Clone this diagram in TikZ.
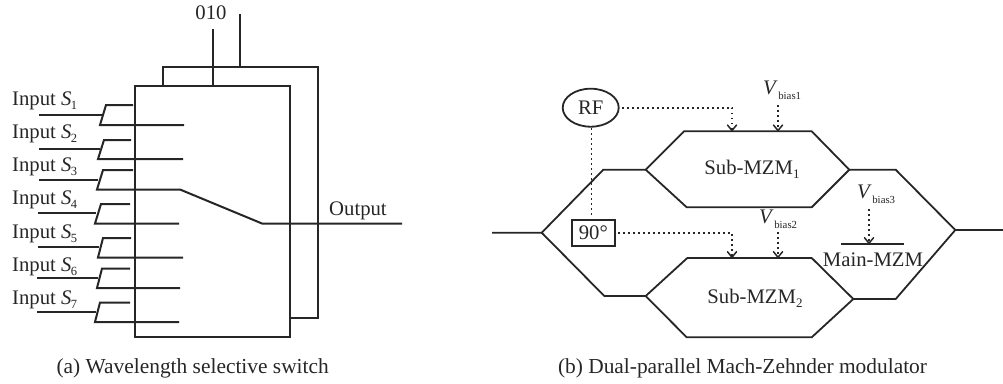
\documentclass[tikz,border=0pt]{standalone}
\usepackage{fontspec}
\setmainfont{Liberation Serif}
\usetikzlibrary{arrows.meta,shapes.geometric}
\definecolor{ink}{HTML}{262626}
\newcommand{\sbs}[2]{\textit{#1}\kern-0.5pt\raisebox{-0.45ex}{\fontsize{12.5}{12}\selectfont #2}}
\newcommand{\vbias}[1]{\textit{V}\kern0.5pt\raisebox{-0.55ex}{\fontsize{10.8}{12}\selectfont bias#1}}
\tikzset{
  wire/.style={draw=ink,line width=2pt,line join=miter},
  guide/.style={draw=ink,line width=1.8pt,line join=miter},
  sig/.style={draw=ink,line width=1.6pt,dash pattern=on 1.6pt off 3.4pt,-{Straight Barb[length=5.5pt,width=9pt,line width=1.5pt,round]}},
  sigplain/.style={draw=ink,line width=1.6pt,dash pattern=on 1.6pt off 3.4pt},
  lbl/.style={inner sep=0pt,text=ink,font=\fontsize{20.7}{22}\selectfont},
  captxt/.style={inner sep=0pt,text=ink,font=\fontsize{21.4}{22}\selectfont},
}
\begin{document}
\begin{tikzpicture}[x=1pt,y=-1pt]
\useasboundingbox (0,0) rectangle (1003,383);
% ---- (a) wavelength selective switch
\coordinate (bTL) at (135,85.5); \coordinate (bTR) at (290,85.5);
\coordinate (bBR) at (290,336.7); \coordinate (bBL) at (135,336.7);
\path[wire] (bTL) -- (bTR) -- (bBR) -- (bBL) -- cycle;
\coordinate (oA) at (163,85.5); \coordinate (oB) at (163,66.5);
\coordinate (oC) at (318,66.5); \coordinate (oD) at (318,318); \coordinate (oE) at (290,318);
\path[wire] (oA) -- (oB) -- (oC) -- (oD) -- (oE);
\coordinate (c1a) at (212.5,29); \coordinate (c1b) at (212.5,85.5);
\coordinate (c2a) at (240,14); \coordinate (c2b) at (240,66.5);
\path[wire] (c1a) -- (c1b);
\path[wire] (c2a) -- (c2b);
\node[lbl] (code) at (211,13) {010};
% inputs
\foreach \n/\lx/\lxe/\ly/\tx/\te/\ty/\bx/\be/\by in {
 1/39/102/115/106/133/105/100/184/125,
 2/39/100/149/104/131/140/98/183/159,
 4/38/96/212.7/101/130/204/95/179/223.5,
 5/38/99/247/103/131/238/98/183/257.5,
 6/37/98/277.7/102/130/268.5/97/180/288,
 7/37/96/312/100/130/302.5/95/179/322}{
  \coordinate (i\n) at (\lx,\ly); \coordinate (j\n) at (\lxe,\ly);
  \coordinate (t\n) at (\te,\ty); \coordinate (u\n) at (\tx,\ty);
  \coordinate (v\n) at (\bx,\by); \coordinate (w\n) at (\be,\by);
  \path[wire] (i\n) -- (j\n);
  \path[wire] (t\n) -- (u\n) -- (v\n) -- (w\n);
}
\coordinate (i3) at (39,180); \coordinate (j3) at (98,180);
\coordinate (t3) at (133,170); \coordinate (u3) at (103,170); \coordinate (v3) at (97,189.5);
\coordinate (w3) at (180,189.5); \coordinate (x3) at (262,223.5); \coordinate (out) at (402,223.5);
\path[wire] (i3) -- (j3);
\path[wire] (t3) -- (u3) -- (v3) -- (w3) -- (x3) -- (out);
\node[lbl,anchor=base west] (s1) at (12,105) {Input \sbs{S}{1}};
\node[lbl,anchor=base west] (s2) at (12,138) {Input \sbs{S}{2}};
\node[lbl,anchor=base west] (s3) at (12,171) {Input \sbs{S}{3}};
\node[lbl,anchor=base west] (s4) at (12,204) {Input \sbs{S}{4}};
\node[lbl,anchor=base west] (s5) at (12,238) {Input \sbs{S}{5}};
\node[lbl,anchor=base west] (s6) at (12,271) {Input \sbs{S}{6}};
\node[lbl,anchor=base west] (s7) at (12,304) {Input \sbs{S}{7}};
\node[lbl,anchor=base west] (outl) at (329,215) {Output};
\node[captxt,anchor=base] (capa) at (192.7,373) {(a) Wavelength selective switch};
% ---- (b) dual-parallel MZM
\coordinate (inL) at (492,232.7); \coordinate (sp) at (541.7,232.7);
\coordinate (ua) at (603.3,169.7); \coordinate (ub) at (645.7,169.7);
\coordinate (la) at (604.3,296); \coordinate (lb) at (645.7,296);
\coordinate (uc) at (849.3,169.7); \coordinate (ud) at (895.7,169.7);
\coordinate (lc) at (853.3,299); \coordinate (ld) at (895.7,299);
\coordinate (cmb) at (955.3,230); \coordinate (outR) at (1003,230);
\path[guide] (inL) -- (sp) -- (ua) -- (ub);
\path[guide] (sp) -- (la) -- (lb);
\path[guide] (uc) -- (ud) -- (cmb) -- (ld) -- (lc);
\path[guide] (cmb) -- (outR);
\coordinate (s1tl) at (684,131.3); \coordinate (s1tm) at (732,131.3); \coordinate (s1tb) at (778,131.3); \coordinate (s1tr) at (811.7,131.3);
\coordinate (s1bl) at (686.7,207.3); \coordinate (s1br) at (811.7,207.3);
\path[guide] (ub) -- (s1tl) -- (s1tr) -- (uc) -- (s1br) -- (s1bl) -- cycle;
\coordinate (s2tl) at (687.3,258); \coordinate (s2tm) at (732,258); \coordinate (s2tb) at (778,258); \coordinate (s2tr) at (811.7,258);
\coordinate (s2bl) at (686.7,337.3); \coordinate (s2br) at (811.7,337.3);
\path[guide] (lb) -- (s2tl) -- (s2tr) -- (lc) -- (s2br) -- (s2bl) -- cycle;
\node[ellipse,draw=ink,line width=1.8pt,minimum width=56pt,minimum height=38pt,inner sep=0pt,text=ink,font=\fontsize{20.7}{22}\selectfont] (rf) at (590.7,107.7) {RF};
\node[rectangle,draw=ink,line width=1.8pt,minimum width=43pt,minimum height=25.5pt,inner sep=0pt,text=ink,font=\fontsize{20.7}{22}\selectfont] (ph) at (593.3,233) {90°};
\coordinate (rfc) at (732,107.7); \coordinate (phc) at (732,233);
\coordinate (rfs) at (622,107.7); \coordinate (phs) at (618,233);
\coordinate (rfd) at (591.5,128); \coordinate (phu) at (591.5,216);
\path[sigplain] (rfd) -- (phu);
\path[sig] (rfs) -- (rfc) -- (s1tm);
\path[sig] (phs) -- (phc) -- (s2tm);
\node[lbl] (sub1) at (752,169.5) {Sub-MZM\raisebox{-0.45ex}{\fontsize{13}{12}\selectfont 1}};
\node[lbl] (sub2) at (755,298) {Sub-MZM\raisebox{-0.45ex}{\fontsize{13}{12}\selectfont 2}};
\node[lbl,anchor=base west] (vb1) at (763,94) {\vbias{1}};
\node[lbl,anchor=base west] (vb2) at (759,223) {\vbias{2}};
\node[lbl,anchor=base west] (vb3) at (857,198) {\vbias{3}};
\coordinate (b1s) at (778,105); \coordinate (b2s) at (778,232);
\path[sig] (b1s) -- (s1tb);
\path[sig] (b2s) -- (s2tb);
\coordinate (b3s) at (869,209); \coordinate (mt) at (869,244);
\coordinate (mL) at (841,244); \coordinate (mR) at (904,244);
\path[guide] (mL) -- (mR);
\path[sig] (b3s) -- (mt);
\node[lbl,anchor=base] (main) at (873,266) {Main-MZM};
\node[captxt,anchor=base] (capb) at (742.5,373) {(b) Dual-parallel Mach-Zehnder modulator};
\end{tikzpicture}
\end{document}
